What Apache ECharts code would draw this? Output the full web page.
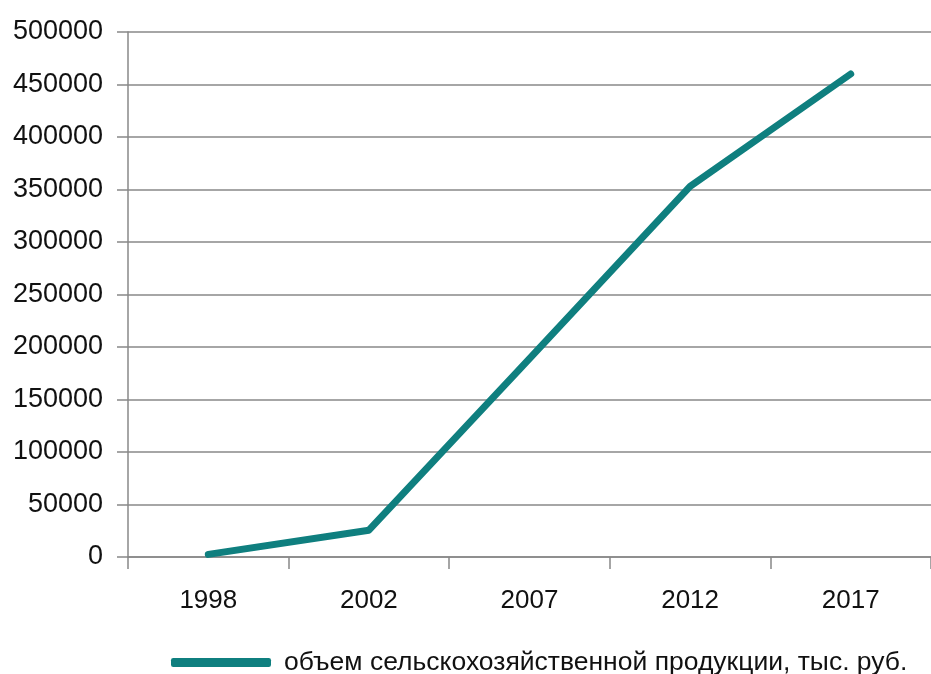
<!DOCTYPE html>
<html>
<head>
<meta charset="utf-8">
<script src="https://cdn.jsdelivr.net/npm/echarts@6/dist/echarts.min.js"></script>
<style>
html,body{margin:0;padding:0;background:#fff;}
#chart{width:931px;height:674px;}
</style>
</head>
<body>
<div id="chart"></div>
<script>
const years = ['1998', '2002', '2007', '2012', '2017'];
const production = [2500, 25500, 189000, 353000, 460000];
const seriesName = 'объем сельскохозяйственной продукции, тыс. руб.';

const chart = echarts.init(document.getElementById('chart'));
const font = '"Liberation Sans", Arial, sans-serif';
chart.setOption({
  animation: false,
  backgroundColor: '#ffffff',
  grid: { left: 128, right: -2, top: 32, bottom: 117, containLabel: false },
  xAxis: {
    type: 'category',
    data: years,
    boundaryGap: true,
    axisLine: { show: true, lineStyle: { color: '#888888', width: 1.5 } },
    axisTick: { show: true, length: 12, lineStyle: { color: '#888888', width: 1.5 } },
    axisLabel: { margin: 31, fontSize: 26, color: '#111111', fontFamily: font },
    splitLine: { show: false }
  },
  yAxis: {
    type: 'value',
    min: 0,
    max: 500000,
    interval: 50000,
    axisLine: { show: true, lineStyle: { color: '#888888', width: 1.5 } },
    axisTick: { show: true, length: 11, lineStyle: { color: '#888888', width: 1.5 } },
    axisLabel: { margin: 25, fontSize: 27, color: '#111111', fontFamily: font,
      formatter: function (v) { return String(v); } },
    splitLine: { show: true, lineStyle: { color: '#888888', width: 1.5 } }
  },
  legend: {
    show: true,
    left: 166,
    top: 644,
    icon: 'roundRect',
    itemWidth: 100,
    itemHeight: 9,
    textStyle: { fontSize: 26.5, color: '#111111', fontFamily: font, padding: [0, 0, 0, 8] },
    data: [seriesName]
  },
  series: [{
    name: seriesName,
    type: 'line',
    data: production,
    symbol: 'none',
    color: '#0f7f7f',
    lineStyle: { color: '#0f7f7f', width: 7, cap: 'round', join: 'round' }
  }]
});
</script>
</body>
</html>
